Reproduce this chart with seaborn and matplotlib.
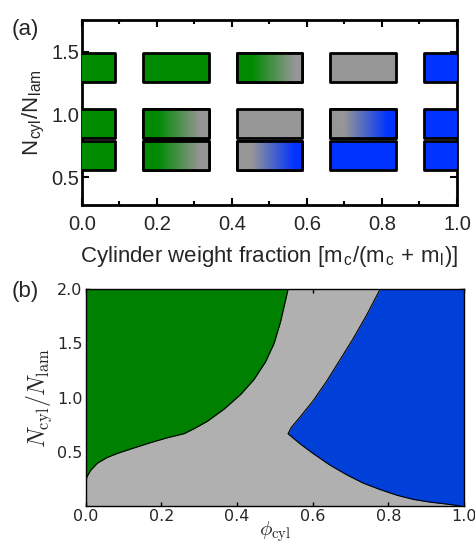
import numpy as np
import matplotlib
matplotlib.use('Agg')
import matplotlib.pyplot as plt
import seaborn as sns
from matplotlib.colors import to_rgb
from matplotlib.ticker import MultipleLocator

sns.set_style('ticks')
plt.rcParams['font.family'] = ['Liberation Sans', 'DejaVu Sans']
plt.rcParams['mathtext.fontset'] = 'cm'

# panel (a): simulation grid
weight_fraction = [0.0, 0.25, 0.5, 0.75, 1.0]
ratio_rows = [1.255, 0.81, 0.56]          # bottom of each row of boxes
row_phases = [
    [('g', 'g'), ('g', 'g'), ('g', 'x'), ('x', 'x'), ('b', 'b')],
    [('g', 'g'), ('g', 'x'), ('x', 'x'), ('x', 'b'), ('b', 'b')],
    [('g', 'g'), ('g', 'x'), ('x', 'b'), ('b', 'b'), ('b', 'b')],
]
colors_a = {'g': '#008a00', 'x': '#969696', 'b': '#0033ff'}

# panel (b): phase boundaries
green_y = [0.0, 0.227, 0.273, 0.327, 0.394, 0.448, 0.485, 0.536, 0.585, 0.630, 0.667,
           0.712, 0.782, 0.894, 1.030, 1.167, 1.333, 1.5, 1.697, 1.909, 2.0]
green_x = [0.0, 0.0, 0.0044, 0.013, 0.031, 0.057, 0.084, 0.128, 0.172, 0.216, 0.260,
           0.286, 0.322, 0.366, 0.410, 0.445, 0.476, 0.498, 0.515, 0.529, 0.535]
blue_y = [0.0, 0.006, 0.018, 0.036, 0.061, 0.100, 0.152, 0.212, 0.288, 0.379, 0.485, 0.576,
          0.667, 0.727, 0.818, 0.970, 1.152, 1.348, 1.545, 1.758, 2.0]
blue_x = [0.99, 0.980, 0.954, 0.910, 0.866, 0.822, 0.778, 0.733, 0.690, 0.645, 0.601, 0.566,
          0.535, 0.544, 0.566, 0.601, 0.637, 0.672, 0.707, 0.742, 0.778]

fig = plt.figure(figsize=(4.75, 5.5), dpi=100)
ax1 = fig.add_axes([0.1726, 0.627, 0.7894, 0.3364])
ax2 = fig.add_axes([0.180, 0.080, 0.797, 0.394])

# ---- (a)
box_w, box_h = 0.175, 0.23
for bottom, phases in zip(ratio_rows, row_phases):
    for xc, (c0, c1) in zip(weight_fraction, phases):
        bars = ax1.bar(xc, box_h, width=box_w, bottom=bottom, color=colors_a[c0],
                       edgecolor='black', linewidth=2, joinstyle='round', zorder=3)
        if c0 != c1:
            t = np.clip((np.linspace(0, 1, 200) - 0.22) / 0.66, 0, 1)
            rgb0, rgb1 = np.array(to_rgb(colors_a[c0])), np.array(to_rgb(colors_a[c1]))
            grad = (1 - t)[:, None] * rgb0 + t[:, None] * rgb1
            im = ax1.imshow(grad[None, :, :], aspect='auto', zorder=3.5,
                            extent=[xc - box_w / 2, xc + box_w / 2, bottom, bottom + box_h])
            im.set_clip_path(bars.patches[0])
            ax1.bar(xc, box_h, width=box_w, bottom=bottom, color='none',
                    edgecolor='black', linewidth=2, joinstyle='round', zorder=4)

ax1.set_xlim(0, 1)
ax1.set_ylim(0.28, 1.75)
ax1.xaxis.set_major_locator(MultipleLocator(0.2))
ax1.xaxis.set_minor_locator(MultipleLocator(0.1))
ax1.set_yticks([0.5, 1.0, 1.5])
ax1.tick_params(which='both', direction='in', top=True, right=True, width=1.5,
                labelsize=14.5, color='black')
ax1.tick_params(which='major', length=5)
ax1.tick_params(which='minor', length=3)
ax1.tick_params(axis='x', pad=7)
ax1.tick_params(axis='y', pad=2)
for s in ax1.spines.values():
    s.set_linewidth(2)
    s.set_color('black')
ax1.set_xlabel('Cylinder weight fraction [m$_\\mathregular{c}$/(m$_\\mathregular{c}$ + m$_\\mathregular{l}$)]',
               fontsize=16, labelpad=7)
ax1.set_ylabel('N$_\\mathregular{cyl}$/N$_\\mathregular{lam}$', fontsize=16, labelpad=3)
fig.text(0.025, 0.937, '(a)', fontsize=16)

# ---- (b)
ax2.set_facecolor('#b0b0b0')
ax2.fill_betweenx(green_y, 0, green_x, color='#008000', lw=0)
ax2.fill_betweenx(blue_y, blue_x, 1, color='#0040d8', lw=0)
sns.lineplot(x=green_x[1:], y=green_y[1:], sort=False, estimator=None, color='black', lw=0.8, ax=ax2)
sns.lineplot(x=blue_x, y=blue_y, sort=False, estimator=None, color='black', lw=0.8, ax=ax2)
ax2.set_xlim(0, 1)
ax2.set_ylim(0, 2.0)
ax2.set_xticks([0.0, 0.2, 0.4, 0.6, 0.8, 1.0])
ax2.set_yticks([0.5, 1.0, 1.5, 2.0])
ax2.tick_params(direction='in', top=True, right=True, length=3, width=1, color='black',
                labelsize=11.5, pad=2)
for lab in ax2.get_xticklabels() + ax2.get_yticklabels():
    lab.set_family('DejaVu Sans')
for s in ax2.spines.values():
    s.set_linewidth(1)
    s.set_color('black')
ax2.set_xlabel(r'$\phi_{\rm cyl}$', fontsize=15, labelpad=-3)
ax2.set_ylabel(r'$N_{\rm cyl}/N_{\rm lam}$', fontsize=17, labelpad=2)
fig.text(0.025, 0.46, '(b)', fontsize=16)

fig.savefig('out.png', dpi=100)
